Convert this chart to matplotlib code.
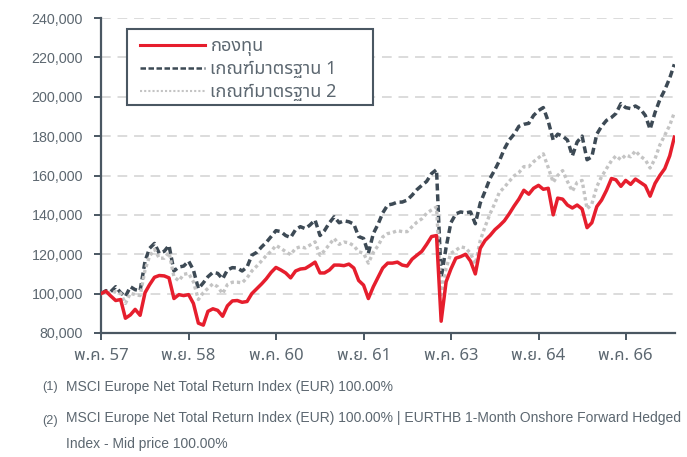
import numpy as np
import pandas as pd
import matplotlib
matplotlib.use('Agg')
import matplotlib.pyplot as plt
from matplotlib import font_manager
from matplotlib.ft2font import FT2Font
from matplotlib.lines import Line2D
from matplotlib.patches import Rectangle
from matplotlib.ticker import FuncFormatter

# monthly values, May 2014 - Mar 2024, in thousands (base 100,000)
dates = pd.date_range('2014-05-01', '2024-03-01', freq='MS')

fund = [100.0, 101.2, 98.8, 96.5, 97.0, 87.5, 89.2, 92.0, 89.0, 100.5,
        104.5, 108.3, 109.2, 109.0, 108.0, 97.5, 99.5, 99.0, 99.5, 95.0,
        85.0, 84.0, 91.0, 92.3, 91.5, 88.5, 93.8, 96.3, 96.5, 95.6,
        96.0, 100.0, 102.5, 105.0, 107.5, 110.8, 113.3, 112.0, 110.5, 108.0,
        111.5, 112.5, 112.8, 114.3, 116.0, 110.5, 110.5, 112.0, 114.5, 114.5,
        114.2, 115.0, 113.0, 106.7, 104.3, 97.5, 103.5, 108.5, 113.0, 115.5,
        115.5, 116.0, 114.5, 114.0, 117.5, 119.5, 121.5, 125.0, 129.0, 129.5,
        86.0, 106.0, 112.5, 118.0, 118.8, 120.0, 116.5, 110.0, 123.0, 127.0,
        129.5, 132.5, 134.5, 137.0, 140.5, 144.5, 148.0, 152.5, 150.5, 153.5,
        155.0, 153.0, 153.5, 140.0, 148.5, 148.0, 145.0, 143.5, 145.0, 143.0,
        133.5, 136.0, 144.2, 147.5, 152.5, 158.5, 157.8, 154.5, 157.5, 155.5,
        158.2, 156.5, 154.8, 149.5, 156.0, 160.0, 163.5, 170.0, 179.5]

bench1 = [100.0, 101.5, 101.0, 103.5, 100.5, 98.5, 103.5, 102.0, 101.5, 116.5,
          123.0, 125.5, 120.5, 121.5, 124.5, 111.5, 113.5, 114.0, 116.5, 112.0,
          102.5, 105.5, 108.6, 110.8, 110.3, 107.5, 112.0, 113.2, 113.0, 111.5,
          113.5, 119.5, 121.0, 123.8, 126.0, 129.0, 132.0, 131.5, 129.5, 128.5,
          132.5, 134.0, 133.0, 134.9, 137.4, 129.5, 132.0, 136.0, 139.0, 136.0,
          137.0, 136.5, 135.3, 129.0, 128.0, 120.5, 130.5, 135.5, 141.0, 145.0,
          145.5, 146.5, 146.5, 147.5, 150.0, 152.8, 155.0, 157.0, 161.0, 163.0,
          108.0, 123.5, 136.0, 140.5, 141.5, 141.0, 141.5, 135.5, 146.0, 152.0,
          158.5, 163.0, 167.5, 173.5, 178.0, 181.0, 185.0, 186.0, 186.5, 190.5,
          193.0, 194.5, 187.5, 178.0, 181.0, 180.0, 178.0, 170.0, 177.0, 180.0,
          168.0, 169.5, 181.0, 185.0, 188.0, 189.5, 191.5, 196.5, 194.5, 194.0,
          195.3, 193.8, 190.5, 183.5, 192.0, 198.5, 203.5, 209.5, 216.5]

bench2 = [100.0, 100.8, 100.3, 101.0, 100.2, 95.0, 100.2, 99.5, 99.0, 112.0,
          119.0, 122.5, 118.0, 118.0, 121.0, 108.5, 106.5, 109.8, 110.3, 106.0,
          97.0, 100.5, 102.7, 105.0, 103.5, 100.0, 104.6, 105.8, 105.8, 105.5,
          108.0, 111.5, 114.0, 116.7, 119.3, 121.5, 124.5, 123.0, 121.3, 119.8,
          123.0, 123.8, 123.2, 124.7, 126.3, 119.5, 121.8, 125.0, 128.0, 125.0,
          126.2, 125.8, 124.3, 121.3, 120.5, 115.5, 121.0, 124.5, 128.8, 130.5,
          131.0, 132.0, 131.5, 131.5, 134.0, 136.3, 138.0, 140.8, 142.5, 144.0,
          99.5, 113.0, 120.5, 122.0, 123.8, 123.2, 120.5, 115.0, 127.0, 134.0,
          140.5, 146.0, 151.5, 154.0, 157.0, 159.8, 161.5, 164.5, 164.5, 167.0,
          169.0, 171.0, 164.0, 156.5, 160.0, 162.5, 157.0, 152.0, 156.5, 157.5,
          143.0, 145.5, 154.3, 159.4, 163.5, 167.5, 170.0, 168.0, 170.4, 169.5,
          172.5, 169.8, 168.0, 163.8, 168.5, 175.5, 180.5, 185.5, 192.0]

tick_dates = ['2014-05-01', '2015-11-01', '2017-05-01', '2018-11-01',
              '2020-05-01', '2021-11-01', '2023-05-01']
tick_labels = ['พ.ค. 57', 'พ.ย. 58', 'พ.ค. 60', 'พ.ย. 61', 'พ.ค. 63', 'พ.ย. 64', 'พ.ค. 66']
legend_labels = ['กองทุน', 'เกณฑ์มาตรฐาน 1', 'เกณฑ์มาตรฐาน 2']
notes = ['MSCI Europe Net Total Return Index (EUR) 100.00%',
         'MSCI Europe Net Total Return Index (EUR) 100.00% | EURTHB 1-Month Onshore Forward Hedged',
         'Index - Mid price 100.00%']

# fonts: latin face for numbers, any installed face with Thai glyphs
num_font = 'Liberation Sans'
thai = set()
for f in font_manager.fontManager.ttflist:
    try:
        if 0x0E01 in FT2Font(f.fname).get_charmap():
            thai.add(f.name)
    except Exception:
        pass
thai = sorted(thai, key=lambda n: ('Looped' in n, 'Noto Sans Thai' not in n, n))
thai_font = thai[0] if thai else 'DejaVu Sans'
plt.rcParams['font.family'] = [thai_font, num_font, 'DejaVu Sans']

dark = '#4a5762'
text_col = '#5c6770'

fig = plt.figure(figsize=(6.87, 4.57), dpi=100)
ax = fig.add_axes([101 / 687, 1 - 333 / 457, 574 / 687, 315 / 457])

x = dates
ax.plot(x, np.array(bench1) * 1000, color='#3d4a55', lw=2.5, ls=(0, (2.0, 1.1)), zorder=3)
ax.plot(x, np.array(bench2) * 1000, color='#c4c4c4', lw=2.4, ls=(0, (1.0, 0.9)), zorder=3)
ax.plot(x, np.array(fund) * 1000, color='#e61e2d', lw=2.5, zorder=4)

ax.set_ylim(80000, 240000)
ax.set_yticks(range(80000, 240001, 20000))
ax.yaxis.set_major_formatter(FuncFormatter(lambda v, p: f'{v:,.0f}'))
ax.set_xlim(pd.Timestamp('2014-05-01'), pd.Timestamp('2024-03-05'))
ax.set_xticks(pd.to_datetime(tick_dates))
ax.set_xticklabels(tick_labels)

ax.grid(axis='y', color='#dcdcdc', lw=1.4, ls=(0, (5, 3.5)))
ax.set_axisbelow(True)
for s in ['top', 'right']:
    ax.spines[s].set_visible(False)
for s in ['left', 'bottom']:
    ax.spines[s].set_color(dark)
    ax.spines[s].set_linewidth(1.6)
ax.tick_params(axis='both', colors=dark, width=1.4, length=5)
ax.tick_params(axis='y', pad=8, labelcolor=text_col)
ax.tick_params(axis='x', pad=6, labelcolor=text_col)
for lab in ax.get_yticklabels():
    lab.set_fontfamily(num_font)
    lab.set_fontsize(10.3)
for lab in ax.get_xticklabels():
    lab.set_fontsize(12)

# legend box
box = Rectangle((26 / 574, (333 - 105) / 315), 246 / 574, 76 / 315, transform=ax.transAxes,
                facecolor='white', edgecolor=dark, lw=1.5, zorder=5)
ax.add_patch(box)
handles = [Line2D([], [], color='#e61e2d', lw=2.2),
           Line2D([], [], color='#3d4a55', lw=1.8, ls=(0, (2.2, 1.0))),
           Line2D([], [], color='#c4c4c4', lw=1.5, ls=(0, (1.0, 1.0)))]
leg = ax.legend(handles, legend_labels, loc='upper left', bbox_to_anchor=(39 / 574, 0.94),
                frameon=False, borderpad=0, borderaxespad=0, handlelength=3.6,
                handletextpad=0.3, labelspacing=0.25, prop={'size': 13})
leg.set_zorder(6)
for t in leg.get_texts():
    t.set_color(text_col)

# footnotes
fig.text(42 / 687, 1 - 387 / 457, '(1)', fontsize=9.2, color=text_col, family=num_font, va='center')
fig.text(66 / 687, 1 - 387 / 457, notes[0], fontsize=10, color=text_col, family=num_font, va='center')
fig.text(42 / 687, 1 - 421 / 457, '(2)', fontsize=9.2, color=text_col, family=num_font, va='center')
fig.text(66 / 687, 1 - 418 / 457, notes[1], fontsize=10, color=text_col, family=num_font, va='center')
fig.text(66 / 687, 1 - 444 / 457, notes[2], fontsize=10, color=text_col, family=num_font, va='center')

fig.savefig('out.png', dpi=100)
